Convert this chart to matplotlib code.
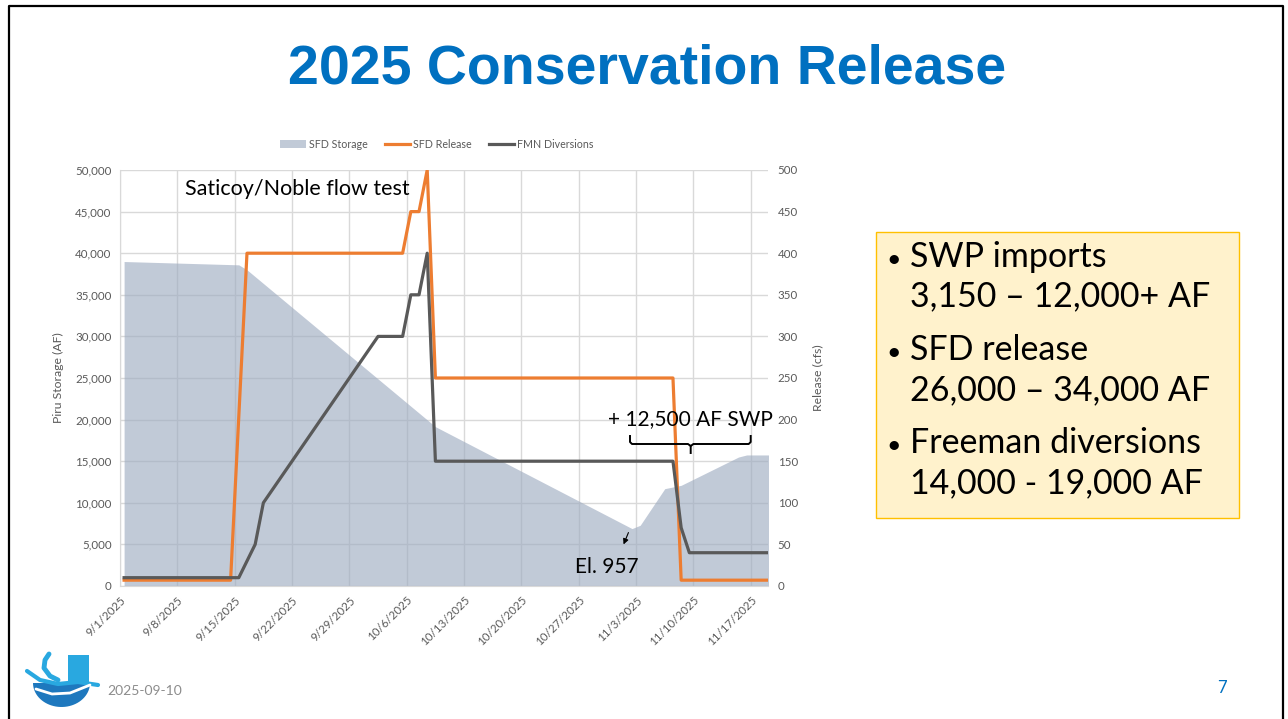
import matplotlib
matplotlib.use('Agg')
import matplotlib.pyplot as plt
import numpy as np
import pandas as pd
from matplotlib.patches import Rectangle, Patch, Polygon
from matplotlib.lines import Line2D
from matplotlib.ticker import FuncFormatter, MultipleLocator

W, H = 1288, 719

# SFD storage (AF), left axis
storage_dates = ['2025-09-01', '2025-09-15', '2025-09-16', '2025-10-09', '2025-11-02',
                 '2025-11-03', '2025-11-06', '2025-11-08', '2025-11-15', '2025-11-16', '2025-11-19']
storage_af = [39000, 38600, 38000, 19150, 6900, 7300, 11700, 12100, 15500, 15750, 15750]

# SFD release (cfs), right axis
release_dates = ['2025-09-01', '2025-09-14', '2025-09-16', '2025-10-05', '2025-10-06', '2025-10-07',
                 '2025-10-08', '2025-10-09', '2025-11-07', '2025-11-08', '2025-11-19']
release_cfs = [7, 7, 400, 400, 450, 450, 500, 250, 250, 7, 7]

# FMN diversions (cfs), right axis
diversion_dates = ['2025-09-01', '2025-09-15', '2025-09-17', '2025-09-18', '2025-10-02', '2025-10-05',
                   '2025-10-06', '2025-10-07', '2025-10-08', '2025-10-09', '2025-11-07', '2025-11-08',
                   '2025-11-09', '2025-11-19']
diversion_cfs = [10, 10, 50, 100, 300, 300, 350, 350, 400, 150, 150, 70, 40, 40]

tick_dates = pd.date_range('2025-09-01', '2025-11-17', freq='7D')

bullets = [('SWP imports', '3,150 \u2013 12,000+ AF'),
           ('SFD release', '26,000 \u2013 34,000 AF'),
           ('Freeman diversions', '14,000 - 19,000 AF')]

FONT = 'Lato'
GREY_TXT = '#595959'

fig = plt.figure(figsize=(W / 100, H / 100), dpi=100)
fig.patch.set_facecolor('white')

ax = fig.add_axes([120 / W, 1 - 586 / H, 648 / W, 416 / H])
ax2 = ax.twinx()

half = pd.Timedelta(hours=12)
x_st = pd.to_datetime(storage_dates) + half
x_rel = pd.to_datetime(release_dates) + half
x_div = pd.to_datetime(diversion_dates) + half

ax.fill_between(x_st, storage_af, 0, color='#9EABC1', alpha=0.63, lw=0, zorder=2)
ax2.plot(x_rel, release_cfs, color='#ED7D31', lw=2.3, zorder=3)
ax2.plot(x_div, diversion_cfs, color='#595959', lw=2.3, zorder=4)

start = pd.Timestamp('2025-09-01')
ax.set_xlim(start, start + pd.Timedelta(days=79.1))
ax.set_ylim(0, 50000)
ax2.set_ylim(0, 500)
ax.yaxis.set_major_locator(MultipleLocator(5000))
ax2.yaxis.set_major_locator(MultipleLocator(50))
ax.yaxis.set_major_formatter(FuncFormatter(lambda v, p: f'{int(v):,}'))
ax.set_xticks(tick_dates)
ax.set_xticklabels([f'{d.month}/{d.day}/{d.year}' for d in tick_dates],
                   rotation=45, ha='right', rotation_mode='anchor')

ax.grid(True, color='#D9D9D9', lw=1.0)
ax.set_axisbelow(True)
for s in ['top', 'right']:
    ax.spines[s].set_visible(False)
for s in ['left', 'bottom']:
    ax.spines[s].set_color('#D9D9D9')
for s in ax2.spines.values():
    s.set_visible(False)

ax.tick_params(axis='y', length=0, pad=6, labelsize=8.3, labelcolor=GREY_TXT)
ax.tick_params(axis='x', length=0, pad=6, labelsize=8.3, labelcolor=GREY_TXT)
ax2.tick_params(axis='y', length=0, pad=7, labelsize=8.3, labelcolor=GREY_TXT)
for lab in ax.get_xticklabels() + ax.get_yticklabels() + ax2.get_yticklabels():
    lab.set_family(FONT)

ax.set_ylabel('Piru Storage (AF)', fontsize=8.8, color=GREY_TXT, family=FONT, labelpad=8)
ax2.set_ylabel('Release (cfs)', fontsize=8.8, color=GREY_TXT, family=FONT, labelpad=10)

handles = [Patch(facecolor='#9EABC1', alpha=0.63, edgecolor='none'),
           Line2D([], [], color='#ED7D31', lw=2.3),
           Line2D([], [], color='#595959', lw=2.3)]
fig.legend(handles, ['SFD Storage', 'SFD Release', 'FMN Diversions'],
           loc='center', bbox_to_anchor=(437 / W, 1 - 144 / H), ncol=3, frameon=False,
           prop={'family': FONT, 'size': 7.7}, labelcolor=GREY_TXT,
           handlelength=2.4, handleheight=0.8, handletextpad=0.25, columnspacing=1.6)

# overlay in pixel coordinates for slide elements
ov = fig.add_axes([0, 0, 1, 1], zorder=10)
ov.set_xlim(0, W)
ov.set_ylim(H, 0)
ov.axis('off')
ov.patch.set_alpha(0)

ov.plot([9, 9, 1283, 1283], [H, 6, 6, H], color='black', lw=1.6)

ov.text(647, 70, '2025 Conservation Release', ha='center', va='center', fontsize=40,
        fontweight='bold', color='#0070C0', family='Liberation Sans')

ov.text(185, 195, 'Saticoy/Noble flow test', fontsize=15.5, family=FONT, va='baseline')
ov.text(608, 425, '+ 12,500 AF SWP', fontsize=15, family=FONT, va='baseline')
ov.text(575, 573, 'El. 957', fontsize=15, family=FONT, va='baseline')
ov.annotate('', xy=(622.5, 547), xytext=(629.5, 530),
            arrowprops=dict(arrowstyle='-|>', lw=0.8, color='black', mutation_scale=8))
ov.plot([630, 630, 632, 688, 690.7, 690.7], [436, 442, 444, 444, 446, 453], color='black', lw=1.4)
ov.plot([690.7, 693.4, 748.7, 750.7, 750.7], [446, 444, 444, 442, 436], color='black', lw=1.4)

# info box
ov.add_patch(Rectangle((876, 232), 363, 286, facecolor='#FFF2CC', edgecolor='#FFC000', lw=1.0))
y = 266.7
for head, val in bullets:
    ov.text(886, y, '\u2022', fontsize=18, family=FONT, va='baseline')
    ov.text(910, y, head, fontsize=24.5, family=FONT, va='baseline')
    ov.text(910, y + 40, val, fontsize=24.5, family=FONT, va='baseline')
    y += 93.3

# logo
t = np.linspace(0, np.pi, 40)
ov.add_patch(Rectangle((68, 655), 21, 30, facecolor='#29A8E0', edgecolor='none'))
ov.add_patch(Polygon(np.column_stack([61.5 + 28.5 * np.cos(t), 683 + 24 * np.sin(t)]),
                     facecolor='#1E78BE', edgecolor='none'))
ov.plot([27, 40, 58, 78, 98], [671, 680, 684, 682, 685], color='#29A8E0', lw=3.0,
        solid_capstyle='round')
ov.plot([36, 52, 70, 90], [689, 694, 693, 685], color='white', lw=2.0, solid_capstyle='round')
ov.plot([49, 45, 44, 50, 58], [654, 660, 668, 676, 680], color='#29A8E0', lw=3.5,
        solid_capstyle='round')

ov.text(107, 691, '2025-09-10', va='center', fontsize=10, color='#8C8C8C', family=FONT)
ov.text(1222, 688, '7', ha='center', va='center', fontsize=12, color='#0070C0', family=FONT)

fig.savefig('out.png', dpi=100)
